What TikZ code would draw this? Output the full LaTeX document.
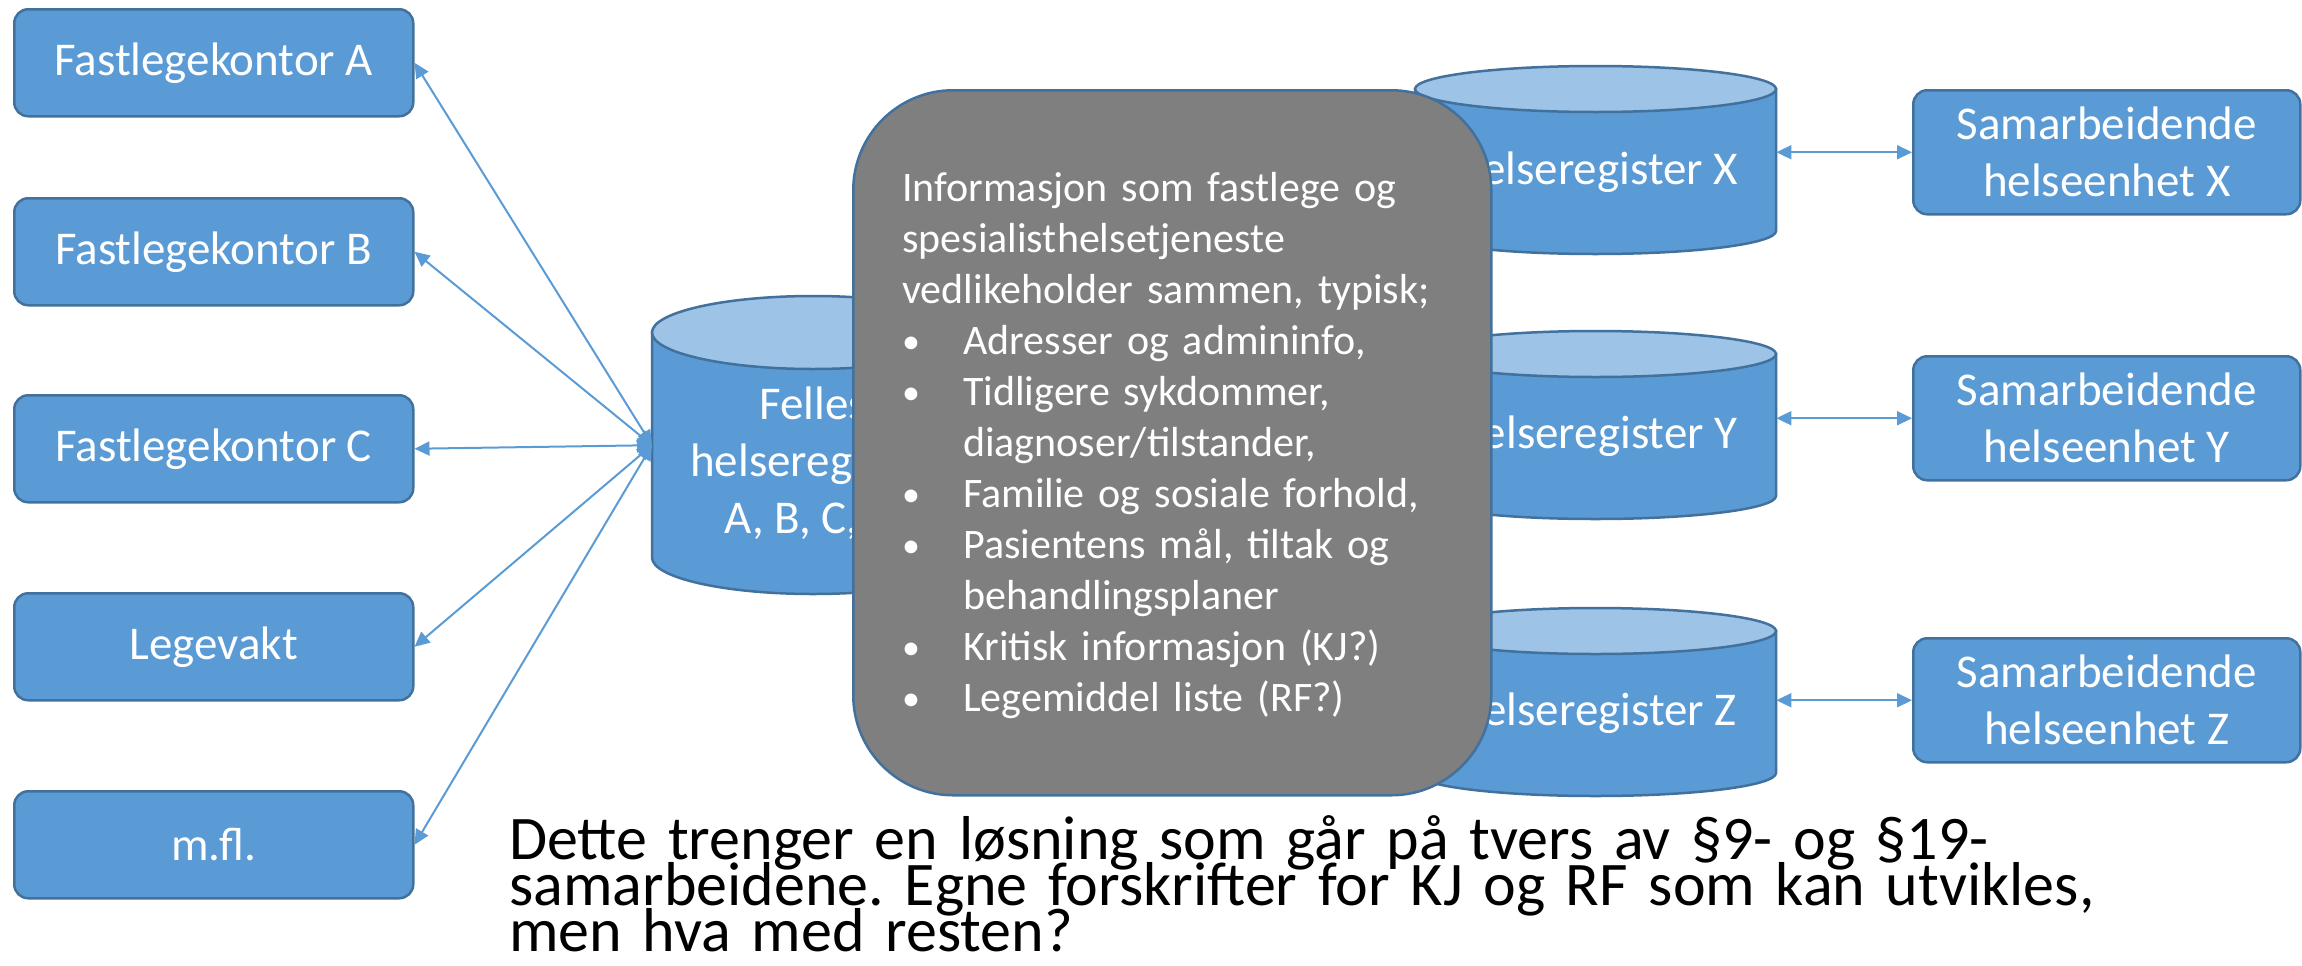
\documentclass[tikz,border=0pt]{standalone}
\usepackage{fontspec}
\setmainfont{Carlito}
\usetikzlibrary{arrows.meta}

\definecolor{boxblue}{HTML}{5B9BD5}
\definecolor{edgeblue}{HTML}{41719C}
\definecolor{lidblue}{HTML}{9DC3E6}
\definecolor{panelgray}{HTML}{7F7F7F}

\newcommand\labelfont{\fontsize{47bp}{57bp}\selectfont}
\newcommand\infofont{\fontsize{42bp}{51bp}\selectfont\frenchspacing}
\newcommand\notefont{\fontsize{62bp}{46bp}\selectfont\lineskiplimit=-200bp\frenchspacing}
\newcommand\bulletline{\par\hangindent=61bp\hangafter=1\noindent
  \makebox[61bp][l]{\fontsize{36bp}{36bp}\selectfont\raisebox{1bp}{•}}}

% database cylinder: name, left, top, width, height, lid half-height
\newcommand\dbcyl[6]{%
  \path[cylbody] (#2,#3+#6) -- (#2,#3+#5-#6)
    arc[start angle=180, end angle=360, x radius=#4/2*1bp, y radius=#6*1bp]
    -- (#2+#4,#3+#6) -- cycle;
  \path[cyllid] (#2+#4/2,#3+#6) ellipse[x radius=#4/2*1bp, y radius=#6*1bp];
  \node[inner sep=0pt, minimum width=#4*1bp, minimum height=#5*1bp,
        anchor=north west] (#1) at (#2,#3) {};
}

\tikzset{
  unitbox/.style={draw=edgeblue, line width=2.5bp, fill=boxblue,
    rounded corners=14bp, text=white, font=\labelfont, align=center,
    inner sep=0pt, anchor=north west},
  cylbody/.style={draw=edgeblue, line width=2.5bp, fill=boxblue},
  cyllid/.style={draw=edgeblue, line width=2.5bp, fill=lidblue},
  cyltext/.style={text=white, font=\labelfont, align=center, inner sep=0pt},
  panel/.style={draw=edgeblue, line width=2.5bp, fill=panelgray,
    rounded corners=100bp, inner sep=0pt, anchor=north west},
  link/.style={draw=boxblue, line width=2bp,
    {Triangle[length=15bp,width=14bp]}-{Triangle[length=15bp,width=14bp]}},
}

\begin{document}
\begin{tikzpicture}[x=1bp, y=-1bp]
\useasboundingbox (0,0) rectangle (2302,965);

% offices on the left
\node[unitbox, minimum width=399bp, minimum height=107bp] (fa) at (13,8) {Fastlegekontor A};
\node[unitbox, minimum width=399bp, minimum height=107bp] (fb) at (13,197) {Fastlegekontor B};
\node[unitbox, minimum width=399bp, minimum height=107bp] (fc) at (13,394) {Fastlegekontor C};
\node[unitbox, minimum width=399bp, minimum height=107bp] (lv) at (13,592) {Legevakt};
\node[unitbox, minimum width=399bp, minimum height=107bp] (mf) at (13,790) {m.fl.};

% shared register
\dbcyl{felles}{652}{296}{322}{298}{36.5}
\node[cyltext] (fellestext) at (813,463) {Felles\\helseregister\\A, B, C, …};

\draw[link] (felles.west) -- (fa.east);
\draw[link] (felles.west) -- (fb.east);
\draw[link] (felles.west) -- (fc.east);
\draw[link] (felles.west) -- (lv.east);
\draw[link] (felles.west) -- (mf.east);

% registers on the right
\dbcyl{regx}{1415}{66}{361}{188}{23}
\node[cyltext] (regxtext) at (1595.5,172) {Helseregister X};
\dbcyl{regy}{1415}{331}{361}{188}{23}
\node[cyltext] (regytext) at (1595.5,436) {Helseregister Y};
\dbcyl{regz}{1415}{608}{361}{188}{23}
\node[cyltext] (regztext) at (1595.5,713) {Helseregister Z};

% cooperating units
\node[unitbox, minimum width=387bp, minimum height=124bp] (sx) at (1912,89) {Samarbeidende\\helseenhet X};
\node[unitbox, minimum width=387bp, minimum height=124bp] (sy) at (1912,355) {Samarbeidende\\helseenhet Y};
\node[unitbox, minimum width=387bp, minimum height=124bp] (sz) at (1912,637) {Samarbeidende\\helseenhet Z};

\draw[link] (regx.east |- sx.west) -- (sx.west);
\draw[link] (regy.east |- sy.west) -- (sy.west);
\draw[link] (regz.east |- sz.west) -- (sz.west);

% information panel
\node[panel, minimum width=638bp, minimum height=705bp] (info) at (852,89) {};
\node[anchor=north west, inner sep=0pt, text width=580bp, align=left,
      text=white, font=\infofont] (infotext) at (902,161)
  {\parindent=0pt\parskip=0pt
   \rule{0pt}{40bp}Informasjon som fastlege og\break spesialisthelsetjeneste\break vedlikeholder sammen, typisk;%
   \bulletline Adresser og admininfo,%
   \bulletline Tidligere sykdommer,\break diagnoser/tilstander,%
   \bulletline Familie og sosiale forhold,%
   \bulletline Pasientens mål, tiltak og\break behandlingsplaner%
   \bulletline Kritisk informasjon (KJ?)%
   \bulletline Legemiddel liste (RF?)\par};

% closing remark
\node[anchor=north west, inner sep=0pt, text width=1780bp, align=left,
      font=\notefont] (note) at (509,809)
  {\parindent=0pt\rule{0pt}{50bp}Dette trenger en løsning som går på tvers av §9- og §19-\break samarbeidene. Egne forskrifter for KJ og RF som kan utvikles,\break men hva med resten?};
\end{tikzpicture}
\end{document}
